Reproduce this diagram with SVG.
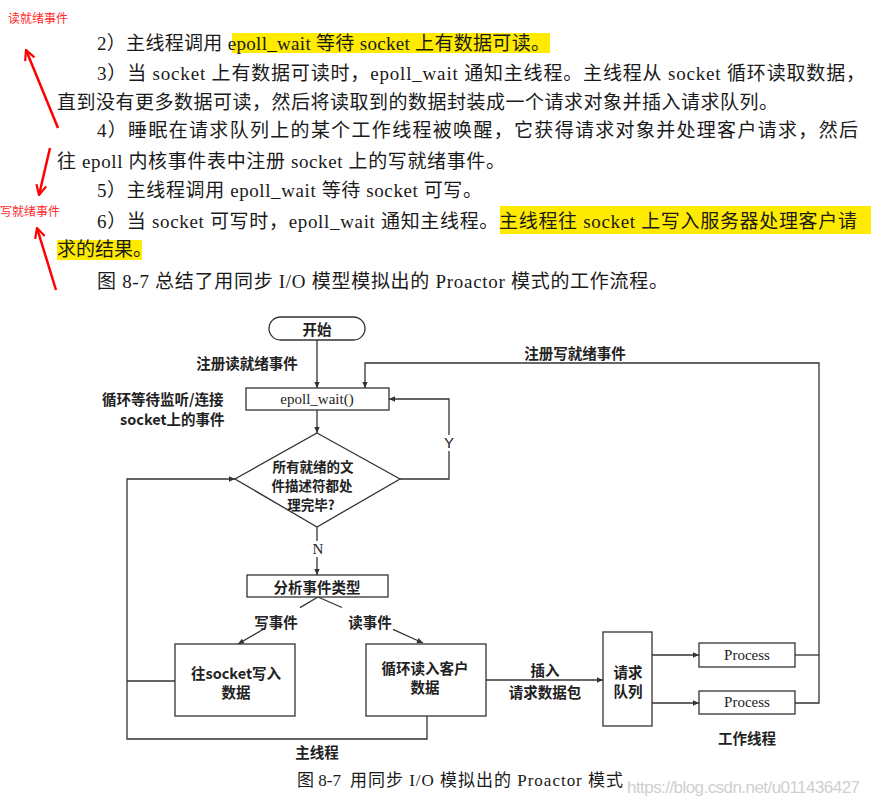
<svg xmlns="http://www.w3.org/2000/svg" width="871" height="806" viewBox="0 0 871 806">
<defs>
<style>
.body{font-family:"Liberation Serif","Noto Sans CJK SC",serif;font-size:19px;fill:#1a1a1a}
.lbl{font-family:"Noto Sans CJK SC",sans-serif;font-size:14.5px;font-weight:bold;fill:#222;text-anchor:middle;dominant-baseline:central}
.dia{font-size:13.5px}
.ser{font-family:"Liberation Serif",serif;font-size:15px;fill:#222;text-anchor:middle;dominant-baseline:central}
.node{fill:#fff;stroke:#333;stroke-width:1.3}
.conn{fill:none;stroke:#333;stroke-width:1.3}
.red{stroke:#f00;stroke-width:2.5;fill:none}
.rlbl{font-family:"Noto Sans CJK SC",sans-serif;font-size:12px;fill:#ff2a2a;dominant-baseline:central}
.hl{fill:#ffeb00}
</style>
<marker id="ah" viewBox="0 0 10 10" refX="10" refY="5" markerWidth="8" markerHeight="6" markerUnits="userSpaceOnUse" orient="auto"><path d="M0,0.5 L10,5 L0,9.5 z" fill="#333"/></marker>
<marker id="rh" viewBox="0 0 12 12" refX="11" refY="6" markerWidth="12" markerHeight="12" markerUnits="userSpaceOnUse" orient="auto"><path d="M1,1 L11,6 L1,11" fill="none" stroke="#f00" stroke-width="2.2"/></marker>
</defs>
<rect width="871" height="806" fill="#fff"/>

<g id="highlights">
<rect class="hl" x="232" y="33" width="318" height="20"/>
<rect class="hl" x="500" y="206" width="371" height="28"/>
<rect class="hl" x="57" y="240" width="85" height="20"/>
</g>

<g id="paragraph">
<text class="body" x="97" y="50" textLength="453" lengthAdjust="spacing">2）主线程调用 epoll_wait 等待 socket 上有数据可读。</text>
<text class="body" x="97" y="80" textLength="768" lengthAdjust="spacing">3）当 socket 上有数据可读时，epoll_wait 通知主线程。主线程从 socket 循环读取数据，</text>
<text class="body" x="57" y="109" textLength="721" lengthAdjust="spacing">直到没有更多数据可读，然后将读取到的数据封装成一个请求对象并插入请求队列。</text>
<text class="body" x="97" y="137" textLength="761" lengthAdjust="spacing">4）睡眠在请求队列上的某个工作线程被唤醒，它获得请求对象并处理客户请求，然后</text>
<text class="body" x="57" y="168" textLength="448" lengthAdjust="spacing">往 epoll 内核事件表中注册 socket 上的写就绪事件。</text>
<text class="body" x="97" y="197" textLength="385" lengthAdjust="spacing">5）主线程调用 epoll_wait 等待 socket 可写。</text>
<text class="body" x="97" y="228" textLength="760" lengthAdjust="spacing">6）当 socket 可写时，epoll_wait 通知主线程。主线程往 socket 上写入服务器处理客户请</text>
<text class="body" x="57" y="256">求的结果。</text>
<text class="body" x="97" y="288" textLength="571" lengthAdjust="spacing">图 8-7 总结了用同步 I/O 模型模拟出的 Proactor 模式的工作流程。</text>
</g>

<g id="annotations">
<text class="rlbl" x="8" y="17">读就绪事件</text>
<text class="rlbl" x="0" y="210">写就绪事件</text>
<line class="red" x1="58" y1="128" x2="26" y2="50" marker-end="url(#rh)"/>
<line class="red" x1="50" y1="148" x2="39" y2="195" marker-end="url(#rh)"/>
<line class="red" x1="56" y1="290" x2="37" y2="228" marker-end="url(#rh)"/>
</g>

<g id="connectors">
<line class="conn" x1="317" y1="340" x2="317" y2="388" marker-end="url(#ah)"/>
<line class="conn" x1="317" y1="410" x2="317" y2="433" marker-end="url(#ah)"/>
<polyline class="conn" points="400,479 449,479 449,451"/>
<polyline class="conn" points="449,435 449,399 389,399" marker-end="url(#ah)"/>
<line class="conn" x1="317" y1="527" x2="317" y2="541"/>
<line class="conn" x1="317" y1="557" x2="317" y2="575" marker-end="url(#ah)"/>
<line class="conn" x1="318" y1="597" x2="300" y2="607.6"/>
<line class="conn" x1="265" y1="628.2" x2="238" y2="644" marker-end="url(#ah)"/>
<line class="conn" x1="318" y1="597" x2="342" y2="607.5"/>
<line class="conn" x1="393" y1="629.3" x2="423" y2="643" marker-end="url(#ah)"/>
<line class="conn" x1="175" y1="681" x2="127" y2="681"/>
<polyline class="conn" points="427,716 427,739 127,739 127,479 235,479" marker-end="url(#ah)"/>
<line class="conn" x1="486" y1="680" x2="603" y2="680" marker-end="url(#ah)"/>
<line class="conn" x1="652" y1="655" x2="699" y2="655" marker-end="url(#ah)"/>
<line class="conn" x1="652" y1="703" x2="699" y2="703" marker-end="url(#ah)"/>
<line class="conn" x1="795" y1="655" x2="819" y2="655"/>
<polyline class="conn" points="795,703 819,703 819,363 365,363 365,388" marker-end="url(#ah)"/>
</g>

<g id="edge-labels">
<text class="lbl" x="247" y="362">注册读就绪事件</text>
<text class="lbl" x="575" y="352">注册写就绪事件</text>
<text class="ser" x="449" y="442" style="font-family:'Liberation Sans',sans-serif">Y</text>
<text class="ser" x="318" y="549">N</text>
<text class="lbl" x="276" y="621">写事件</text>
<text class="lbl" x="370" y="621">读事件</text>
<text class="lbl" x="545" y="669">插入</text>
<text class="lbl" x="545" y="691">请求数据包</text>
<text class="lbl" x="317" y="751">主线程</text>
<text class="lbl" x="747" y="737">工作线程</text>
<text class="lbl" x="102" y="398" style="text-anchor:start">循环等待监听/连接</text>
<text class="lbl" x="120" y="418" style="text-anchor:start">socket上的事件</text>
</g>

<g id="start">
<rect class="node" x="269" y="317" width="96" height="23" rx="11.5"/>
<text class="lbl" x="317" y="328.5">开始</text>
</g>
<g id="epoll">
<rect class="node" x="246" y="388" width="143" height="22"/>
<text class="ser" x="317" y="399">epoll_wait()</text>
</g>
<g id="decision">
<polygon class="node" points="317,433 400,479 317,527 235,479"/>
<text class="lbl dia" x="313" y="466">所有就绪的文</text>
<text class="lbl dia" x="312" y="485">件描述符都处</text>
<text class="lbl dia" x="311" y="504">理完毕?</text>
</g>
<g id="analyze">
<rect class="node" x="247" y="575" width="141" height="22"/>
<text class="lbl" x="317" y="586">分析事件类型</text>
</g>
<g id="write">
<rect class="node" x="175" y="644" width="120" height="72"/>
<text class="lbl" x="236" y="672">往socket写入</text>
<text class="lbl" x="236" y="691">数据</text>
</g>
<g id="read">
<rect class="node" x="366" y="644" width="120" height="72"/>
<text class="lbl" x="425" y="667">循环读入客户</text>
<text class="lbl" x="425" y="686">数据</text>
</g>
<g id="queue">
<rect class="node" x="603" y="632" width="49" height="94"/>
<text class="lbl" x="628" y="671">请求</text>
<text class="lbl" x="628" y="690">队列</text>
</g>
<g id="process1">
<rect class="node" x="699" y="643" width="96" height="24"/>
<text class="ser" x="747" y="655">Process</text>
</g>
<g id="process2">
<rect class="node" x="699" y="691" width="96" height="23"/>
<text class="ser" x="747" y="702">Process</text>
</g>

<g id="caption">
<text class="body" x="297" y="786" style="font-size:17px">图 8-7</text>
<text class="body" x="350" y="786" style="font-size:17px" textLength="273" lengthAdjust="spacing">用同步 I/O 模拟出的 Proactor 模式</text>
<text x="627" y="793" textLength="233" lengthAdjust="spacing" style="font-family:'Liberation Sans',sans-serif;font-size:17px;fill:#cfcfcf">https://blog.csdn.net/u011436427</text>
</g>
</svg>
